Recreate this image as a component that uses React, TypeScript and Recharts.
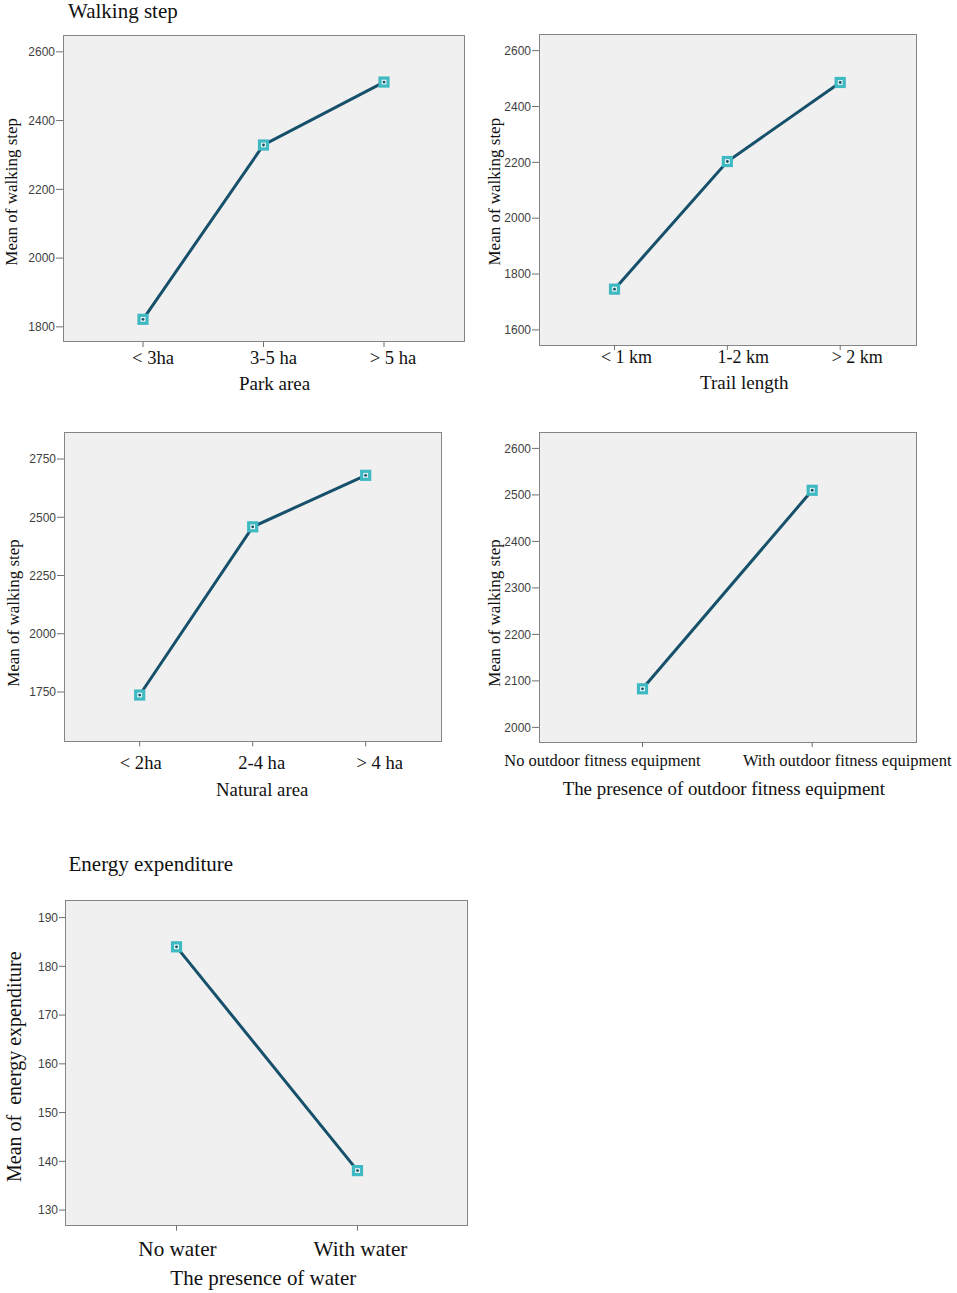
import React from "react";
import { LineChart, Line, XAxis, YAxis } from "recharts";

// ---- data ----
const parkAreaCats = ["< 3ha", "3-5 ha", "> 5 ha"];
const parkAreaSteps = [1822, 2329, 2512];
const parkAreaTicks = [1800, 2000, 2200, 2400, 2600];

const trailCats = ["< 1 km", "1-2 km", "> 2 km"];
const trailSteps = [1746, 2203, 2486];
const trailTicks = [1600, 1800, 2000, 2200, 2400, 2600];

const naturalCats = ["< 2ha", "2-4 ha", "> 4 ha"];
const naturalSteps = [1737, 2459, 2680];
const naturalTicks = [1750, 2000, 2250, 2500, 2750];

const fitnessCats = ["No outdoor fitness equipment", "With outdoor fitness equipment"];
const fitnessSteps = [2083, 2510];
const fitnessTicks = [2000, 2100, 2200, 2300, 2400, 2500, 2600];

const waterCats = ["No water", "With water"];
const waterEnergy = [184, 138.1];
const waterTicks = [130, 140, 150, 160, 170, 180, 190];

const LINE = "#16506a";
const MARK = "#3fb9c2";
const SERIF = "'Liberation Serif', 'Times New Roman', serif";
const SANS = "'Liberation Sans', Arial, sans-serif";

const Y_W = 62;
const MT = 10;
const MR = 40;
const X_H = 80;

type PanelDef = {
  box: { x: number; y: number; w: number; h: number };
  cats: string[];
  values: number[];
  ticks: number[];
  domain: [number, number];
  pad: number;
  catSize: number;
  catBase: number;
  catShift: number[];
  xTitle: string;
  xTitleSize: number;
  xTitleShift: number;
  xTitleBase: number;
  yTitle: string;
  yTitleSize: number;
  yTitleX: number;
  yTitleY: number;
};

const panels: PanelDef[] = [
  {
    box: { x: 63.3, y: 35.7, w: 401, h: 306 },
    cats: parkAreaCats, values: parkAreaSteps, ticks: parkAreaTicks,
    domain: [1756, 2646], pad: 80,
    catSize: 18.6, catBase: 21.6, catShift: [10, 10, 9],
    xTitle: "Park area", xTitleSize: 19, xTitleShift: 11, xTitleBase: 389.3,
    yTitle: "Mean of walking step", yTitleSize: 17, yTitleX: 17.3, yTitleY: 191.5,
  },
  {
    box: { x: 539.3, y: 35, w: 376.7, h: 310 },
    cats: trailCats, values: trailSteps, ticks: trailTicks,
    domain: [1546, 2656], pad: 75.5,
    catSize: 18, catBase: 18.3, catShift: [12, 16, 17],
    xTitle: "Trail length", xTitleSize: 19, xTitleShift: 17, xTitleBase: 389.3,
    yTitle: "Mean of walking step", yTitleSize: 17, yTitleX: 500, yTitleY: 191.7,
  },
  {
    box: { x: 64.3, y: 432.3, w: 377.4, h: 309.4 },
    cats: naturalCats, values: naturalSteps, ticks: naturalTicks,
    domain: [1538, 2866], pad: 75.7,
    catSize: 18.6, catBase: 27.3, catShift: [1, 9, 14],
    xTitle: "Natural area", xTitleSize: 18.8, xTitleShift: 9.5, xTitleBase: 796,
    yTitle: "Mean of walking step", yTitleSize: 17, yTitleX: 19, yTitleY: 613.3,
  },
  {
    box: { x: 539.3, y: 432.3, w: 376.7, h: 310 },
    cats: fitnessCats, values: fitnessSteps, ticks: fitnessTicks,
    domain: [1968.6, 2635.3], pad: 103.5,
    catSize: 16.5, catBase: 24.4, catShift: [-40, 35],
    xTitle: "The presence of outdoor fitness equipment", xTitleSize: 18.9, xTitleShift: -3.5, xTitleBase: 795.7,
    yTitle: "Mean of walking step", yTitleSize: 17, yTitleX: 500, yTitleY: 613.3,
  },
  {
    box: { x: 65.7, y: 901, w: 402, h: 324.7 },
    cats: waterCats, values: waterEnergy, ticks: waterTicks,
    domain: [126.8, 193.4], pad: 110.5,
    catSize: 21.2, catBase: 30.3, catShift: [1, 3],
    xTitle: "The presence of water", xTitleSize: 21, xTitleShift: -3.7, xTitleBase: 1285,
    yTitle: "Mean of\u00A0 energy expenditure", yTitleSize: 20, yTitleX: 20.7, yTitleY: 1066.7,
  },
];

function SquareDot(props: any) {
  const { cx, cy } = props;
  if (cx == null || cy == null) return null;
  return (
    <g>
      <rect x={cx - 4} y={cy - 4} width={8} height={8} fill="#eaf5f5" stroke={MARK} strokeWidth={3.2} />
      <circle cx={cx} cy={cy} r={1.4} fill={LINE} />
    </g>
  );
}

function CatTick(props: any) {
  const { x, y, payload, index, p } = props;
  return (
    <text
      x={x + (p.catShift[index] ?? 0)}
      y={y - 7 + p.catBase}
      textAnchor="middle"
      fontFamily={SERIF}
      fontSize={p.catSize}
      fill="#111"
    >
      {payload.value}
    </text>
  );
}

function XTitle({ p }: { p: PanelDef }) {
  const ox = p.box.x - Y_W;
  const oy = p.box.y - MT;
  return (
    <text
      x={p.box.x + p.box.w / 2 + p.xTitleShift - ox}
      y={p.xTitleBase - oy}
      textAnchor="middle"
      fontFamily={SERIF}
      fontSize={p.xTitleSize}
      fill="#111"
    >
      {p.xTitle}
    </text>
  );
}

function YTitle({ p }: { p: PanelDef }) {
  const x = p.yTitleX - (p.box.x - Y_W);
  const y = p.yTitleY - (p.box.y - MT);
  return (
    <text
      x={x}
      y={y}
      transform={`rotate(-90, ${x}, ${y})`}
      textAnchor="middle"
      fontFamily={SERIF}
      fontSize={p.yTitleSize}
      fill="#111"
      style={{ whiteSpace: "pre" }}
    >
      {p.yTitle}
    </text>
  );
}

function Panel({ p }: { p: PanelDef }) {
  const data = p.cats.map((c, i) => ({ cat: c, v: p.values[i] }));
  const w = Y_W + p.box.w + MR;
  const h = MT + p.box.h + X_H;
  return (
    <div style={{ position: "absolute", left: p.box.x - Y_W, top: p.box.y - MT, width: w, height: h }}>
      <div
        style={{
          position: "absolute",
          left: Y_W - 0.75,
          top: MT - 0.75,
          width: p.box.w + 1.5,
          height: p.box.h + 1.5,
          background: "#f0f0f0",
          border: "1.5px solid #858585",
          boxSizing: "border-box",
        }}
      />
      <div style={{ position: "absolute", left: 0, top: 0 }}>
        <LineChart width={w} height={h} data={data} margin={{ top: MT, right: MR, bottom: 0, left: 0 }}>
          <XAxis
            dataKey="cat"
            type="category"
            interval={0}
            height={X_H}
            padding={{ left: p.pad, right: p.pad }}
            axisLine={false}
            tickLine={{ stroke: "#6f6f6f" }}
            tickSize={5}
            tickMargin={2}
            tick={<CatTick p={p} />}
            label={<XTitle p={p} />}
          />
          <YAxis
            type="number"
            domain={p.domain}
            ticks={p.ticks}
            allowDataOverflow
            width={Y_W}
            axisLine={false}
            tickLine={{ stroke: "#6f6f6f" }}
            tickSize={7}
            tickMargin={1}
            tick={{ fontFamily: SANS, fontSize: 12, fill: "#3f3f3f" }}
            label={<YTitle p={p} />}
          />
          <Line
            type="linear"
            dataKey="v"
            stroke={LINE}
            strokeWidth={3}
            dot={<SquareDot />}
            activeDot={false}
            isAnimationActive={false}
          />
        </LineChart>
      </div>
    </div>
  );
}

export default function App() {
  return (
    <div style={{ position: "absolute", left: 0, top: 0, width: 957, height: 1293, background: "#fff", overflow: "hidden" }}>
      <div style={{ position: "absolute", left: 68, top: 1, fontFamily: SERIF, fontSize: 21, lineHeight: "21px", color: "#111" }}>
        Walking step
      </div>
      <div style={{ position: "absolute", left: 68.5, top: 853.5, fontFamily: SERIF, fontSize: 21, lineHeight: "21px", color: "#111" }}>
        Energy expenditure
      </div>
      {panels.map((p, i) => (
        <Panel key={i} p={p} />
      ))}
    </div>
  );
}
